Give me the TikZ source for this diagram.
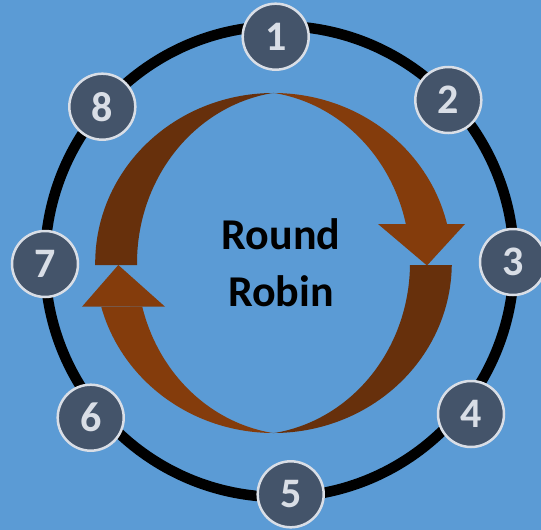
\documentclass[tikz,border=0pt]{standalone}
\usepackage{fontspec}
\setmainfont{Carlito}
\definecolor{bgblue}{HTML}{5B9BD5}
\definecolor{brownlight}{HTML}{843C0C}
\definecolor{browndark}{HTML}{67300C}
\definecolor{nodefill}{HTML}{44546A}
\definecolor{nodeline}{HTML}{D9DEE6}
\tikzset{
  numnode/.style={circle, fill=nodefill, draw=nodeline, line width=2.5pt,
    minimum size=66pt, inner sep=0pt, text=nodeline,
    font=\fontsize{42}{42}\selectfont\bfseries},
  titletext/.style={anchor=base, font=\fontsize{44}{50}\selectfont\bfseries, text=black, inner sep=0pt},
  ring/.style={draw=black, line width=10.5pt}
}
\begin{document}
\begin{tikzpicture}[x=1pt,y=-1pt]
\useasboundingbox (0,0) rectangle (541,530);
\fill[bgblue] (0,0) rectangle (541,530);
% big ring
\draw[ring] (279.5,261.5) ellipse [x radius=234.5, y radius=235.5];
% top arrow: dark part
\fill[browndark]
  plot[domain=180.7:90, samples=60, variable=\t] ({273.5+178.3*cos(\t)},{263-170*sin(\t)})
  -- plot[domain=98.45:180.7, samples=60, variable=\t] ({297+160*cos(\t)},{263-172*sin(\t)})
  -- cycle;
% top arrow: light part
\fill[brownlight]
  plot[domain=90:13.26, samples=60, variable=\t] ({273.5+178.3*cos(\t)},{263-170*sin(\t)})
  -- plot[domain=13.1:81.55, samples=60, variable=\t] ({250+160*cos(\t)},{263-172*sin(\t)})
  -- cycle;
\fill[brownlight] (378,224) -- (465,224) -- (427,265.5) -- cycle;
% bottom arrow: dark part
\fill[browndark]
  plot[domain=-0.7:-90, samples=60, variable=\t] ({273.5+178.3*cos(\t)},{263-170*sin(\t)})
  -- plot[domain=-81.55:-0.7, samples=60, variable=\t] ({250+160*cos(\t)},{263-172*sin(\t)})
  -- cycle;
% bottom arrow: light part
\fill[brownlight]
  plot[domain=-90:-165, samples=60, variable=\t] ({273.5+178.3*cos(\t)},{263-170*sin(\t)})
  -- plot[domain=-165.3:-98.45, samples=60, variable=\t] ({297+160*cos(\t)},{263-172*sin(\t)})
  -- cycle;
\fill[brownlight] (82,306.7) -- (165,306.7) -- (118.3,265) -- cycle;
% title
\node[titletext] (t1) at (281,249.3) {Round};
\node[titletext] (t2) at (281,306.7) {Robin};
% numbered nodes
\node[numnode] (n1) at (275.7,36.7) {1};
\node[numnode] (n2) at (448.3,100) {2};
\node[numnode] (n3) at (513,262) {3};
\node[numnode] (n4) at (471,414) {4};
\node[numnode] (n5) at (290.7,494.3) {5};
\node[numnode] (n6) at (90.7,417.7) {6};
\node[numnode] (n7) at (45,264) {7};
\node[numnode] (n8) at (102.3,106.7) {8};
\end{tikzpicture}
\end{document}
